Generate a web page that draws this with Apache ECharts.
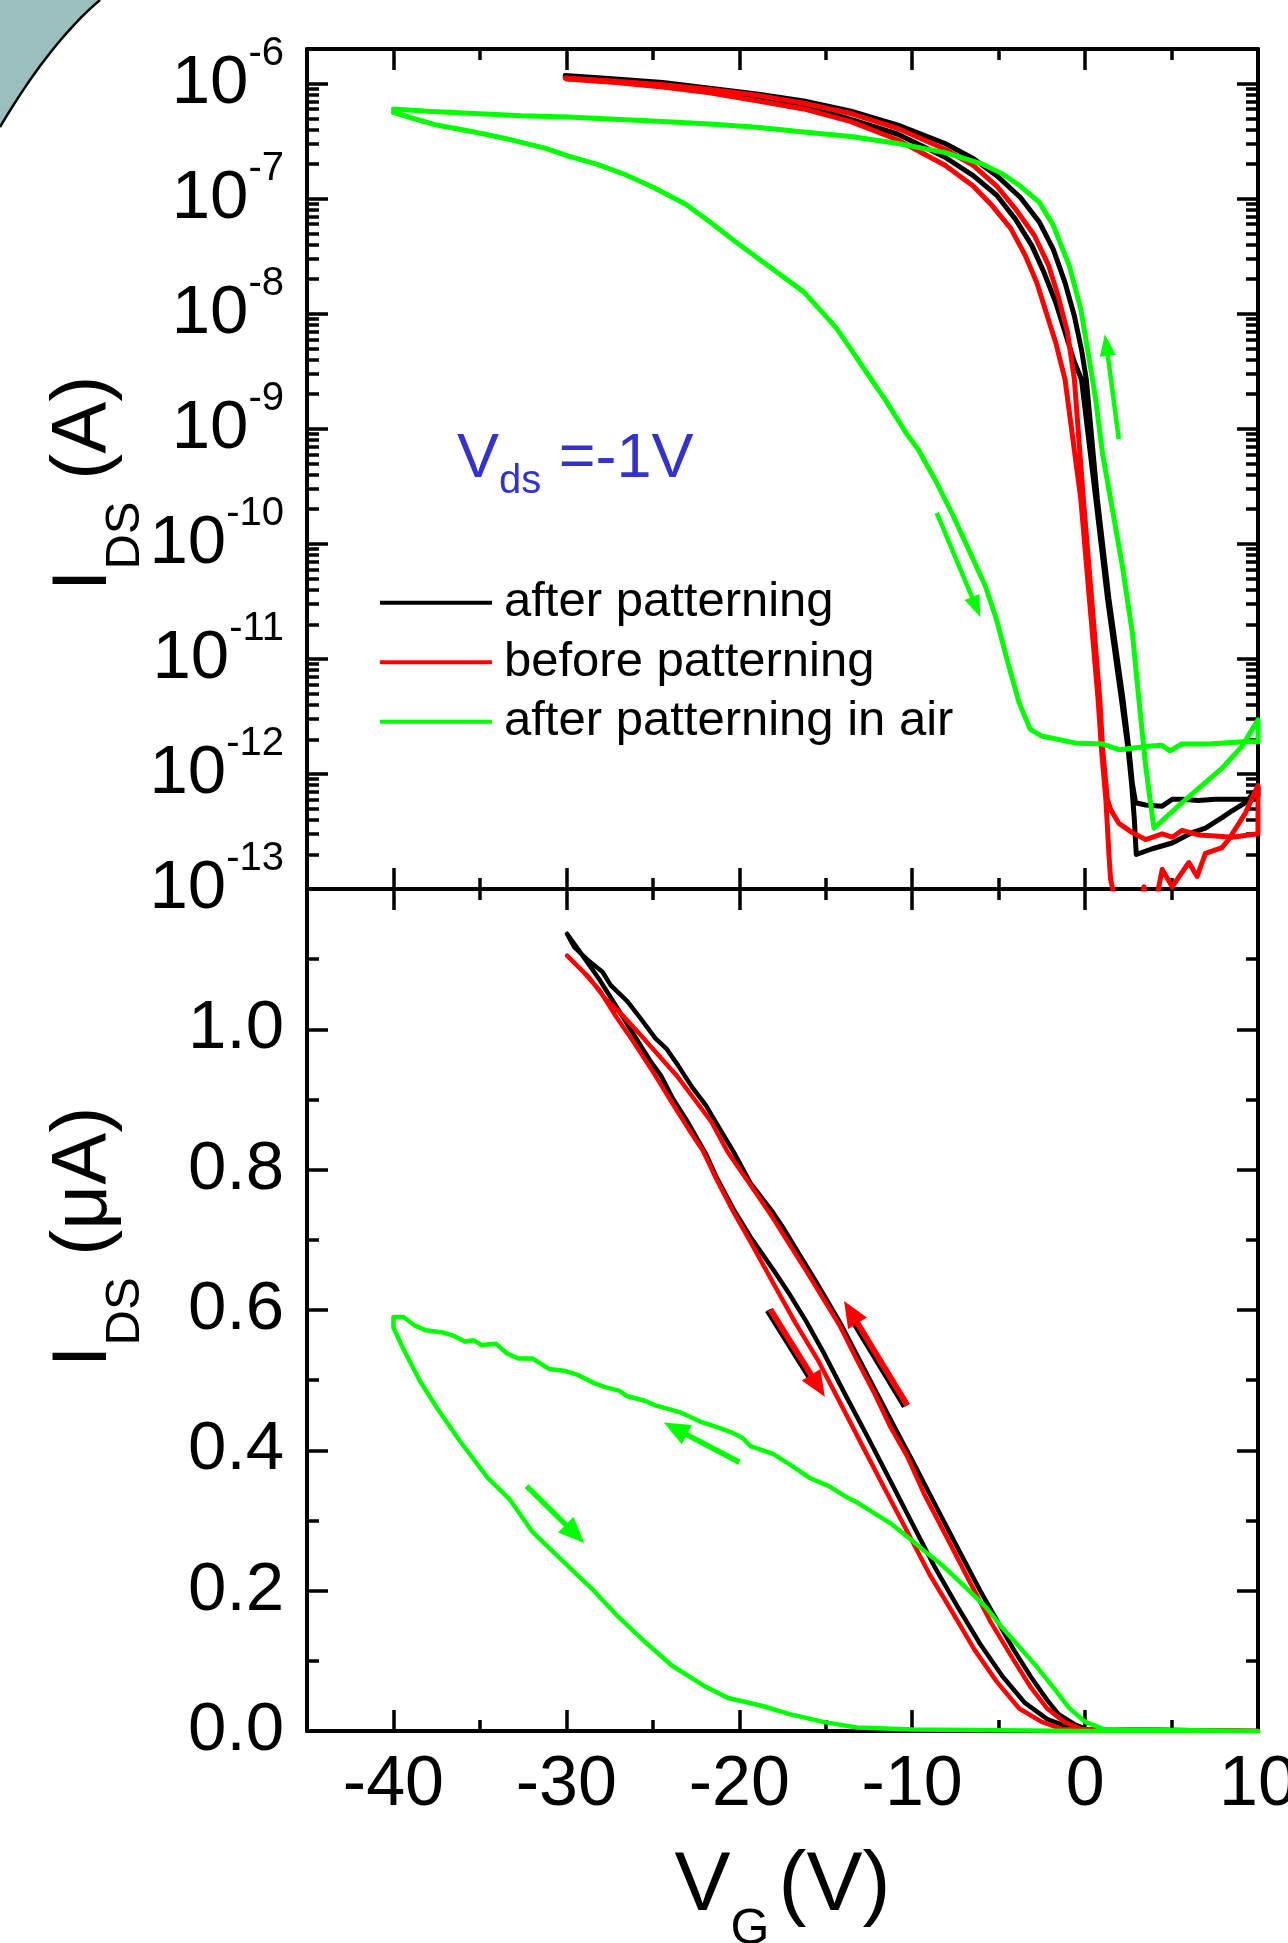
<!DOCTYPE html>
<html>
<head>
<meta charset="utf-8">
<title>Transfer curves</title>
<script src="https://cdn.jsdelivr.net/npm/echarts@6/dist/echarts.min.js"></script>
<style>
  html, body { margin: 0; padding: 0; background: #fff; }
  #chart { width: 1288px; height: 1943px; }
</style>
</head>
<body>
<div id="chart"></div>
<script>
const FONT = '"Liberation Sans", Arial, sans-serif';

// ---- ticks ----
const xMajor = [-40, -30, -20, -10, 0, 10];
const xMinor = [-35, -25, -15, -5, 5];
const logMajor = [-13, -12, -11, -10, -9, -8, -7, -6]; // exponents of 10
const linMajor = [0, 0.2, 0.4, 0.6, 0.8, 1.0];
const linMinor = [0.1, 0.3, 0.5, 0.7, 0.9, 1.1];
const logMinor = [];
logMajor.slice(0, -1).forEach(n => {
  for (let k = 2; k <= 9; k++) logMinor.push(n + Math.log10(k));
});

// ---- top panel: [V_G (V), log10(I_DS / A)] ----
const blackTopDown = [[-30.07,-5.93],[-27.15,-5.96],[-24.43,-5.99],[-21.71,-6.04],[-18.99,-6.09],[-16.27,-6.15],[-13.54,-6.24],[-10.82,-6.36],[-8.10,-6.52],[-6.47,-6.65],[-5.11,-6.80],[-3.74,-6.99],[-2.66,-7.20],[-1.84,-7.44],[-1.16,-7.73],[-0.62,-8.02],[-0.21,-8.31],[0.07,-8.57],[0.71,-9.61],[1.38,-10.48],[2.19,-11.35],[2.54,-11.79],[2.73,-12.08],[2.92,-12.25],[3.50,-12.27],[4.46,-12.28],[5.04,-12.22],[5.61,-12.22],[6.57,-12.23],[7.54,-12.22],[8.50,-12.22],[9.46,-12.22],[10,-12.19]];
const blackTopUp = [[10,-12.12],[9.27,-12.25],[8.50,-12.32],[7.92,-12.38],[6.96,-12.47],[6.19,-12.51],[5.04,-12.60],[3.88,-12.65],[2.96,-12.70],[2.85,-12.40],[2.70,-12.10],[2.50,-11.80],[2.10,-11.35],[1.30,-10.48],[0.62,-9.61],[-0.21,-8.57],[-0.62,-8.42],[-1.16,-8.16],[-1.70,-7.90],[-2.38,-7.64],[-3.07,-7.41],[-4.02,-7.18],[-5.11,-6.97],[-6.47,-6.80],[-8.10,-6.64],[-10.82,-6.44],[-13.54,-6.31],[-16.27,-6.19],[-18.99,-6.12],[-21.71,-6.06],[-24.43,-6.02],[-27.15,-5.98],[-30.0,-5.94]];

const redTopDown = [[-30.07,-5.95],[-27.15,-5.98],[-24.43,-6.01],[-21.71,-6.05],[-18.99,-6.10],[-16.27,-6.17],[-13.54,-6.26],[-10.82,-6.39],[-8.10,-6.57],[-6.47,-6.71],[-5.11,-6.89],[-4.02,-7.09],[-2.93,-7.32],[-2.11,-7.58],[-1.57,-7.84],[-1.02,-8.16],[-0.62,-8.57],[-0.10,-9.61],[0.38,-10.48],[0.85,-11.35],[1.02,-11.79],[1.29,-12.22],[1.48,-12.31],[1.96,-12.43],[2.73,-12.51],[3.50,-12.57],[4.46,-12.52],[5.04,-12.55],[5.61,-12.49],[6.57,-12.53],[7.54,-12.54],[8.50,-12.55],[10,-12.52]];
const redTopUp = [[10,-12.10],[9.27,-12.34],[8.30,-12.57],[7.92,-12.64],[6.96,-12.69],[6.48,-12.89],[6.00,-12.77],[5.04,-12.98],[4.46,-12.83],[4.17,-13.05],[3.80,-13.40],[3.40,-12.98],[3.00,-13.40],[2.20,-13.60],[1.67,-13.05],[1.48,-12.92],[1.40,-12.75],[1.20,-12.22],[0.95,-11.79],[0.75,-11.35],[0.25,-10.48],[-0.25,-9.61],[-1.16,-8.57],[-1.70,-8.25],[-2.25,-7.99],[-2.79,-7.73],[-3.47,-7.49],[-4.29,-7.26],[-5.38,-7.06],[-6.47,-6.89],[-8.10,-6.71],[-10.82,-6.49],[-13.54,-6.33],[-16.27,-6.22],[-18.99,-6.15],[-21.71,-6.08],[-24.43,-6.03],[-27.15,-5.99],[-30.0,-5.96]];

const greenTopDown = [[-40.00,-6.25],[-39.13,-6.29],[-37.50,-6.36],[-35.32,-6.42],[-33.41,-6.48],[-31.24,-6.56],[-29.87,-6.63],[-28.24,-6.70],[-26.61,-6.79],[-24.98,-6.90],[-23.07,-7.05],[-21.71,-7.20],[-20.08,-7.39],[-18.17,-7.60],[-16.27,-7.81],[-15.18,-7.99],[-14.36,-8.13],[-13.54,-8.31],[-12.46,-8.55],[-11.59,-8.74],[-10.29,-9.05],[-9.65,-9.18],[-8.68,-9.44],[-7.71,-9.73],[-6.73,-10.05],[-5.76,-10.37],[-5.12,-10.66],[-4.47,-11.03],[-3.82,-11.38],[-3.18,-11.61],[-2.53,-11.67],[-1.88,-11.69],[-0.59,-11.73],[1.03,-11.74],[2.00,-11.79],[3.62,-11.76],[4.43,-11.75],[4.92,-11.80],[5.56,-11.74],[7.18,-11.74],[9.12,-11.72],[10,-11.72]];
const greenTopUp = [[10,-11.53],[9.07,-11.76],[7.92,-11.95],[5.61,-12.25],[3.98,-12.47],[3.50,-11.93],[3.11,-11.35],[2.73,-10.77],[2.15,-10.19],[1.58,-9.70],[1.00,-9.21],[0.61,-8.74],[0.23,-8.39],[-0.25,-7.96],[-0.92,-7.58],[-1.30,-7.44],[-1.84,-7.23],[-2.66,-7.03],[-3.74,-6.89],[-4.83,-6.78],[-5.92,-6.70],[-8.10,-6.60],[-10.82,-6.52],[-13.54,-6.46],[-16.27,-6.42],[-18.99,-6.38],[-21.71,-6.35],[-24.43,-6.33],[-27.15,-6.31],[-29.87,-6.29],[-32.60,-6.28],[-35.32,-6.26],[-38.04,-6.24],[-40.00,-6.22]];

// ---- bottom panel: [V_G (V), I_DS (uA)] ----
const blackLinDown = [[-29.96,1.136],[-29.06,1.105],[-28.09,1.071],[-27.12,1.033],[-26.14,0.994],[-25.17,0.956],[-24.53,0.934],[-23.88,0.903],[-22.91,0.865],[-21.94,0.823],[-21.29,0.788],[-20.32,0.743],[-19.35,0.704],[-18.05,0.658],[-17.08,0.622],[-16.11,0.583],[-15.14,0.540],[-13.84,0.478],[-12.55,0.418],[-11.25,0.356],[-9.96,0.294],[-8.66,0.232],[-7.37,0.177],[-6.07,0.124],[-4.78,0.078],[-3.48,0.040],[-2.19,0.017],[-0.89,0.005],[0.01,0.002],[10,0]];
const blackLinUp = [[10,0],[0.01,0.003],[-0.57,0.009],[-1.54,0.024],[-2.19,0.044],[-3.16,0.078],[-4.13,0.116],[-5.10,0.158],[-6.07,0.200],[-7.37,0.261],[-8.66,0.322],[-9.96,0.384],[-10.93,0.429],[-12.22,0.490],[-13.20,0.536],[-14.17,0.582],[-14.81,0.609],[-15.62,0.643],[-16.76,0.689],[-17.40,0.715],[-18.05,0.739],[-19.35,0.781],[-20.32,0.825],[-21.29,0.865],[-21.94,0.892],[-22.74,0.918],[-23.55,0.949],[-24.20,0.972],[-24.85,0.987],[-25.66,1.014],[-26.47,1.040],[-27.44,1.063],[-27.92,1.082],[-28.73,1.098],[-29.54,1.117],[-29.96,1.136]];

const redLinDown = [[-29.96,1.105],[-29.06,1.083],[-28.09,1.056],[-27.12,1.018],[-26.14,0.983],[-24.85,0.934],[-23.88,0.895],[-22.91,0.857],[-22.10,0.827],[-21.29,0.785],[-20.32,0.739],[-19.35,0.697],[-18.05,0.639],[-16.76,0.582],[-15.46,0.529],[-14.17,0.468],[-12.87,0.406],[-11.58,0.345],[-10.28,0.284],[-8.99,0.223],[-7.69,0.170],[-6.40,0.116],[-5.10,0.070],[-3.81,0.032],[-2.51,0.013],[-1.38,0.003],[0.01,0.002],[10,0]];
const redLinUp = [[10,0],[-0.25,0.003],[-1.22,0.013],[-2.19,0.032],[-3.16,0.063],[-4.13,0.101],[-5.43,0.154],[-6.72,0.215],[-8.02,0.277],[-9.31,0.338],[-10.28,0.391],[-11.25,0.433],[-12.22,0.483],[-13.20,0.529],[-14.17,0.577],[-15.14,0.616],[-16.11,0.655],[-17.08,0.693],[-18.05,0.731],[-19.35,0.778],[-20.64,0.824],[-21.61,0.868],[-22.58,0.900],[-23.55,0.932],[-24.85,0.968],[-25.82,0.995],[-26.79,1.021],[-27.76,1.044],[-28.73,1.075],[-29.96,1.105]];

const greenLinDown = [[-40.00,0.590],[-40.00,0.575],[-39.42,0.544],[-38.45,0.498],[-37.47,0.460],[-36.18,0.414],[-34.56,0.361],[-33.27,0.330],[-31.97,0.284],[-31.00,0.261],[-29.38,0.223],[-28.41,0.200],[-27.12,0.166],[-25.50,0.128],[-23.88,0.093],[-21.94,0.063],[-20.64,0.047],[-18.70,0.036],[-17.08,0.024],[-15.14,0.013],[-13.20,0.005],[-9.96,0.002],[0.01,0],[10,0]];
const greenLinUp = [[10,0],[2.34,0.002],[1.05,0.003],[0.01,0.013],[-0.89,0.032],[-1.86,0.063],[-2.84,0.093],[-3.81,0.120],[-4.78,0.147],[-5.75,0.177],[-7.04,0.208],[-8.34,0.238],[-9.31,0.257],[-10.28,0.277],[-11.25,0.296],[-12.22,0.311],[-13.20,0.326],[-13.84,0.334],[-14.81,0.349],[-15.95,0.361],[-17.08,0.380],[-18.05,0.395],[-19.35,0.406],[-19.83,0.418],[-20.48,0.426],[-21.29,0.433],[-22.26,0.441],[-23.39,0.454],[-24.85,0.464],[-25.50,0.471],[-26.47,0.477],[-26.95,0.485],[-27.76,0.490],[-28.41,0.496],[-29.38,0.508],[-30.03,0.513],[-31.00,0.516],[-31.97,0.531],[-32.78,0.531],[-33.43,0.538],[-34.08,0.552],[-34.89,0.550],[-35.37,0.557],[-35.86,0.555],[-36.50,0.563],[-37.15,0.568],[-38.12,0.571],[-38.77,0.578],[-39.42,0.590],[-40.00,0.590]];

// ---- sweep-direction arrows [from, to] ----
const greenArrowsTop = [[[-8.58,-9.73],[-6.30,-10.55]], [[1.95,-9.09],[1.23,-8.27]]];
const greenArrowsBottom = [[[-32.30,0.349],[-29.50,0.281]], [[-19.99,0.383],[-23.70,0.431]]];
const redArrowsBottom = [[[-18.21,0.601],[-15.45,0.492]], [[-10.28,0.464],[-13.55,0.597]]];

const topRect = { left: 307, top: 49, width: 951, height: 840 };
const botRect = { left: 307, top: 889, width: 951, height: 842 };
const logMax = Math.log10(2e-6);

function axis(gridIndex, position, min, max, ticks, tickLen, showLine, label) {
  return {
    type: 'value', gridIndex: gridIndex, position: position, min: min, max: max,
    axisLine: { show: showLine, onZero: false, lineStyle: { color: '#000', width: 4 } },
    axisTick: { show: true, inside: true, length: tickLen, customValues: ticks,
      lineStyle: { color: '#000', width: 3.5 } },
    axisLabel: label || { show: false },
    splitLine: { show: false },
    nameMoveOverlap: false
  };
}

// main text on top, subscript pushed down by a tall token box
const titleRich = {
  m: { fontFamily: FONT, fontSize: 78, height: 78, verticalAlign: 'top', color: '#000' },
  s: { fontFamily: FONT, fontSize: 49, height: 160, verticalAlign: 'top', color: '#000' }
};
const xTitleRich = {
  m: { fontFamily: FONT, fontSize: 84, height: 84, verticalAlign: 'top', color: '#000' },
  p: { fontFamily: FONT, fontSize: 84, height: 84, verticalAlign: 'top', color: '#000', padding: [0, 0, 0, 9] },
  s: { fontFamily: FONT, fontSize: 50, height: 170, verticalAlign: 'top', color: '#000' }
};

const xAxes = [
  axis(0, 'bottom', -45, 10, xMajor, 21, true),
  axis(0, 'top', -45, 10, xMajor, 21, true),
  axis(1, 'bottom', -45, 10, xMinor, 11, false),
  axis(1, 'top', -45, 10, xMinor, 11, false),
  Object.assign(axis(2, 'bottom', -45, 10, xMajor, 21, true, {
    show: true, customValues: xMajor, margin: 20, color: '#000',
    fontFamily: FONT, fontSize: 70
  }), {
    name: '{m|V}{s|G}{p|(V)}', nameLocation: 'middle', nameGap: 114,
    nameTextStyle: { rich: xTitleRich }
  }),
  axis(2, 'top', -45, 10, xMajor, 21, true),
  axis(3, 'bottom', -45, 10, xMinor, 11, false),
  axis(3, 'top', -45, 10, xMinor, 11, false)
];

const yAxes = [
  Object.assign(axis(0, 'left', -13, logMax, logMajor, 21, true, {
    show: true, customValues: logMajor, margin: 23,
    formatter: v => '{b|10}{s|' + v + '}',
    rich: {
      b: { fontFamily: FONT, fontSize: 69, lineHeight: 100, color: '#000' },
      s: { fontFamily: FONT, fontSize: 40, lineHeight: 40, verticalAlign: 'top', color: '#000' }
    }
  }), {
    name: '{m|I}{s|DS}{m| (A)}', nameLocation: 'middle', nameRotate: 90, nameGap: 102,
    nameTextStyle: { rich: titleRich, padding: [0, 29, 0, 0] }
  }),
  axis(0, 'right', -13, logMax, logMajor, 21, true),
  axis(1, 'left', -13, logMax, logMinor, 12, false),
  axis(1, 'right', -13, logMax, logMinor, 12, false),
  Object.assign(axis(2, 'left', 0, 1.2, linMajor, 21, true, {
    show: true, customValues: linMajor, margin: 23, color: '#000',
    fontFamily: FONT, fontSize: 69, formatter: v => v.toFixed(1)
  }), {
    name: '{m|I}{s|DS}{m| (\u03bcA)}', nameLocation: 'middle', nameRotate: 90, nameGap: 102,
    nameTextStyle: { rich: titleRich, padding: [0, 0, 0, 146] }
  }),
  axis(2, 'right', 0, 1.2, linMajor, 21, true),
  axis(3, 'left', 0, 1.2, linMinor, 12, false),
  axis(3, 'right', 0, 1.2, linMinor, 12, false)
];

function curve(name, color, xi, data, z, width, markLine) {
  const s = {
    type: 'line', name: name, xAxisIndex: xi, yAxisIndex: xi, data: data,
    showSymbol: false, symbol: 'none', clip: true, z: z, silent: true,
    lineStyle: { color: color, width: width, join: 'round', cap: 'round' },
    itemStyle: { color: color }
  };
  if (markLine) s.markLine = markLine;
  return s;
}

function arrows(list, color, width, head, shadow) {
  const ls = { color: color, width: width, type: 'solid', cap: 'butt' };
  const sh = { shadowColor: '#000', shadowBlur: 0, shadowOffsetX: -2.5, shadowOffsetY: 1 };
  if (shadow) Object.assign(ls, sh);
  return {
    silent: true, animation: false,
    symbol: ['none', 'triangle'], symbolSize: head,
    lineStyle: ls,
    itemStyle: shadow ? Object.assign({ color: color }, sh) : { color: color },
    label: { show: false },
    emphasis: { disabled: true },
    data: list.map(a => [{ coord: a[0] }, { coord: a[1] }])
  };
}

// corner decoration: quadratic edge from (100,0) to (0,127)
const cornerPts = [[0, 0]];
for (let i = 0; i <= 20; i++) {
  const t = i / 20;
  cornerPts.push([
    (1 - t) * (1 - t) * 100 + 2 * t * (1 - t) * 50,
    2 * t * (1 - t) * 42.5 + t * t * 127
  ]);
}

const NAMES = ['after patterning', 'before patterning', 'after patterning in air'];

const option = {
  animation: false,
  backgroundColor: '#fff',
  grid: [
    Object.assign({ outerBoundsMode: 'none', containLabel: false }, topRect),
    Object.assign({ outerBoundsMode: 'none', containLabel: false }, topRect),
    Object.assign({ outerBoundsMode: 'none', containLabel: false }, botRect),
    Object.assign({ outerBoundsMode: 'none', containLabel: false }, botRect)
  ],
  xAxis: xAxes,
  yAxis: yAxes,
  legend: {
    orient: 'vertical', left: 380, top: 573, padding: 0,
    itemWidth: 112, itemHeight: 4, itemGap: 0,
    icon: 'rect', selectedMode: false,
    itemStyle: { borderWidth: 0 },
    textStyle: { fontFamily: FONT, fontSize: 49, lineHeight: 59.5, color: '#000', padding: [0, 0, 0, 7] },
    data: NAMES
  },
  graphic: [
    { type: 'polygon', silent: true, shape: { points: cornerPts },
      style: { fill: '#9bbebe' } },
    { type: 'polyline', silent: true, shape: { points: cornerPts.slice(1) },
      style: { fill: null, stroke: '#000', lineWidth: 2.5 } },
    { type: 'text', silent: true, x: 457, y: 428,
      style: {
        text: '{v|V}{s|ds}{v| =-1V}', align: 'left', verticalAlign: 'top',
        rich: {
          v: { fontFamily: FONT, fontSize: 63, height: 63, verticalAlign: 'top', fill: '#3333cc' },
          s: { fontFamily: FONT, fontSize: 40, height: 108, verticalAlign: 'top', fill: '#3333cc' }
        }
      } }
  ],
  series: [
    curve(NAMES[0], '#000000', 0, blackTopDown.concat(blackTopUp), 2, 5),
    curve(NAMES[1], '#ff0000', 0, redTopDown.concat(redTopUp), 3, 5),
    curve(NAMES[2], '#00ff00', 0, greenTopDown.concat(greenTopUp), 4, 5,
      arrows(greenArrowsTop, '#00ff00', 4.5, [16, 22], false)),
    curve(NAMES[0], '#000000', 4, blackLinDown.concat(blackLinUp), 2, 4.5),
    curve(NAMES[1], '#ff0000', 4, redLinDown.concat(redLinUp), 3, 4.5,
      arrows(redArrowsBottom, '#ff0000', 6, [22, 26], true)),
    curve(NAMES[2], '#00ff00', 4, greenLinDown.concat(greenLinUp), 4, 4.5,
      arrows(greenArrowsBottom, '#00ff00', 5.5, [22, 26], false))
  ]
};

const chart = echarts.init(document.getElementById('chart'), null, { renderer: 'canvas' });
chart.setOption(option);
</script>
</body>
</html>
